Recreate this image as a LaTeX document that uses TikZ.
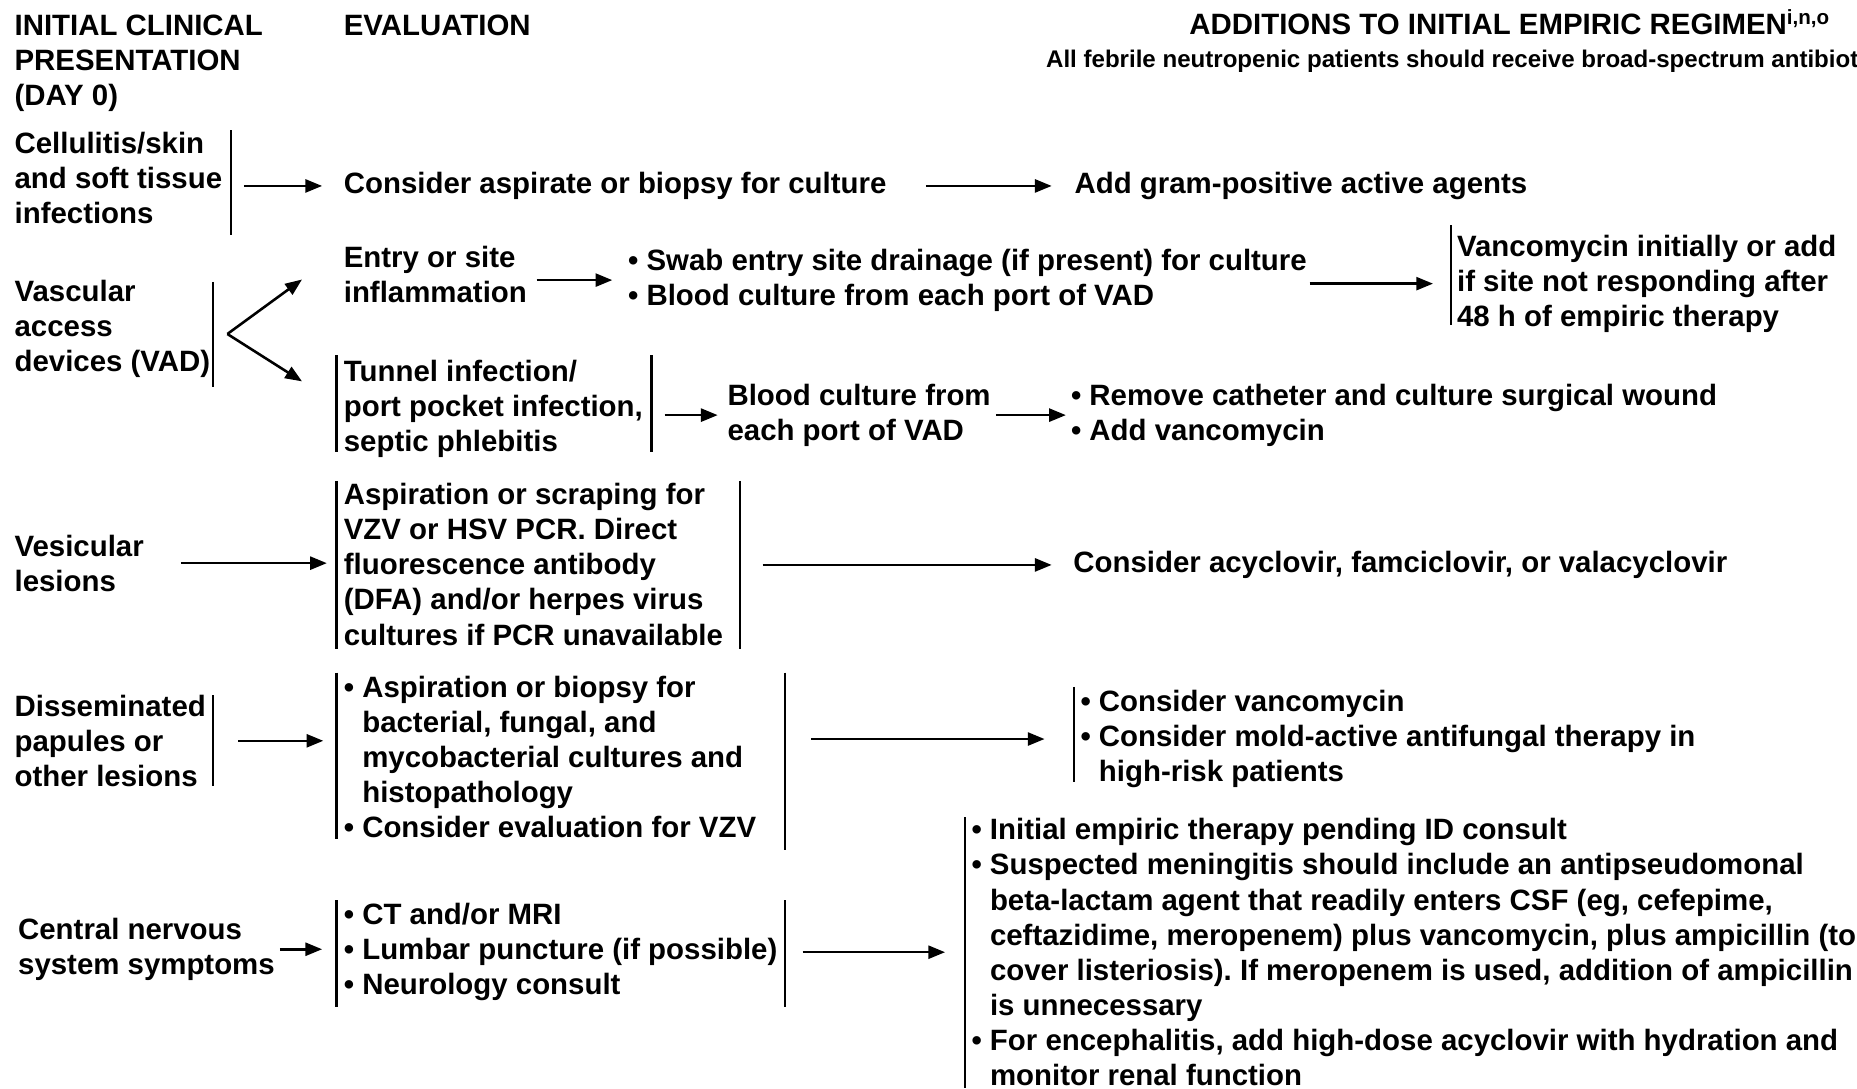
\documentclass[tikz,border=0pt]{standalone}
\usepackage{fontspec}
\setmainfont{Liberation Sans}
\usetikzlibrary{arrows.meta,calc}
\frenchspacing

\newcommand\mainfnt{\fontsize{14.9pt}{17.8pt}\selectfont\bfseries}
\newcommand\subfnt{\fontsize{12.2pt}{14.6pt}\selectfont\bfseries}
\newcommand\ind{\hphantom{•\ }}

\tikzset{
  txt/.style={anchor=west, inner sep=0pt, align=left, font=\mainfnt},
  arr/.style={-{Triangle[length=8.5pt,width=6.6pt]}, line width=1.3pt},
  bar/.style={line width=1.2pt},
}

\begin{document}
\begin{tikzpicture}[x=0.6pt, y=-0.6pt]
        \useasboundingbox (0,0) rectangle (1568,919);
        %headings
        \node[txt] (hclin) at (12,53.5) {INITIAL CLINICAL\\PRESENTATION\\(DAY 0)};
        \node[txt] (heval) at (290,21) {EVALUATION};
        \node[txt] (hadd) at (1004,19) {ADDITIONS TO INITIAL EMPIRIC REGIMEN\textsuperscript{i,n,o}};
        \node[txt, font=\subfnt] (hsub) at (883,52) {All febrile neutropenic patients should receive broad-spectrum antibiot};
        %initial presentation
        \node[txt] (pcell) at (12,150) {Cellulitis/skin\\and soft tissue\\infections};
        \node[txt] (pvad) at (12,278) {Vascular\\access\\devices (VAD)};
        \node[txt] (pves) at (12,475.5) {Vesicular\\lesions};
        \node[txt] (pdis) at (12,625.5) {Disseminated\\papules or\\other lesions};
        \node[txt] (pcns) at (15,801.5) {Central nervous\\system symptoms};
        %evaluation
        \node[txt] (ecell) at (290,157) {Consider aspirate or biopsy for culture};
        \node[txt] (eentry) at (290,231.5) {Entry or site\\inflammation};
        \node[txt] (eswab) at (530,236.5) {• Swab entry site drainage (if present) for culture\\• Blood culture from each port of VAD};
        \node[txt] (etun) at (290,345) {Tunnel infection/\\port pocket infection,\\septic phlebitis};
        \node[txt] (eblood) at (614,350.5) {Blood culture from\\each port of VAD};
        \node[txt] (eves) at (290,476.5) {Aspiration or scraping for\\VZV or HSV PCR. Direct\\fluorescence antibody\\(DFA) and/or herpes virus\\cultures if PCR unavailable};
        \node[txt] (edis) at (290,639) {• Aspiration or biopsy for\\\ind bacterial, fungal, and\\\ind mycobacterial cultures and\\\ind histopathology\\• Consider evaluation for VZV};
        \node[txt] (ecns) at (290,803.5) {• CT and/or MRI\\• Lumbar puncture (if possible)\\• Neurology consult};
        %additions
        \node[txt] (acell) at (907,157) {Add gram-positive active agents};
        \node[txt] (avanc) at (1230,239.5) {Vancomycin initially or add\\if site not responding after\\48 h of empiric therapy};
        \node[txt] (aremove) at (904,350.5) {• Remove catheter and culture surgical wound\\• Add vancomycin};
        \node[txt] (aves) at (906,477) {Consider acyclovir, famciclovir, or valacyclovir};
        \node[txt] (adis) at (912,624) {• Consider vancomycin\\• Consider mold-active antifungal therapy in\\\ind high-risk patients};
        \node[txt] (acns) at (820,804) {• Initial empiric therapy pending ID consult\\• Suspected meningitis should include an antipseudomonal\\\ind beta-lactam agent that readily enters CSF (eg, cefepime,\\\ind ceftazidime, meropenem) plus vancomycin, plus ampicillin (to\\\ind cover listeriosis). If meropenem is used, addition of ampicillin\\\ind is unnecessary\\• For encephalitis, add high-dose acyclovir with hydration and\\\ind monitor renal function};
        %vertical bars
        \foreach \x/\ya/\yb in {195/110/198, 180/238/327, 1225/190/274, 284/300/382,
              550/300/382, 284/406/548, 625/406/548, 180/587/664, 284/568/708,
              663/568/718, 907/580/660, 284/760/850, 663/760/850, 815/690/919}
              \draw[bar] (\x,\ya) -- (\x,\yb);
        %arrows
        \coordinate (vadtip) at (192,282);
        \draw[arr] (vadtip) -- ($(eentry.west)+(-35,4.5)$);
        \draw[arr] (vadtip) -- ($(etun.west)+(-35,-23)$);
        \draw[arr, shorten <=10.8pt, shorten >=10.8pt] (pcell.east |- ecell.west) -- (ecell.west);
        \draw[arr, shorten <=19.8pt, shorten >=11.4pt] (ecell.east |- acell.west) -- (acell.west);
        \draw[arr, shorten <=4.8pt, shorten >=7.8pt] (eentry.east |- eswab.west) -- (eswab.west);
        \draw[arr, shorten <=1.2pt, shorten >=12pt] (eswab.east |- avanc.west) -- (avanc.west);
        \draw[arr, shorten <=10.8pt, shorten >=4.8pt] (etun.east |- eblood.west) -- (eblood.west);
        \draw[arr, shorten <=2.4pt, shorten >=2.4pt] (eblood.east) -- (eblood.east -| aremove.west);
        \draw[arr, shorten <=18.6pt, shorten >=8.4pt] (pves.east) -- (pves.east -| eves.west);
        \draw[arr, shorten <=19.8pt, shorten >=10.8pt] (eves.east |- aves.west) -- (aves.west);
        \draw[arr, shorten <=16.2pt, shorten >=10.2pt] (pdis.east) -- (pdis.east -| edis.west);
        \draw[arr, shorten <=27.6pt, shorten >=18pt] (edis.east |- adis.west) -- (adis.west);
        \draw[arr, shorten <=2.4pt, shorten >=10.8pt] (pcns.east) -- (pcns.east -| ecns.west);
        \draw[arr, shorten <=12.6pt, shorten >=13.2pt] (ecns.east |- acns.west) -- (acns.west);
\end{tikzpicture}
\end{document}
